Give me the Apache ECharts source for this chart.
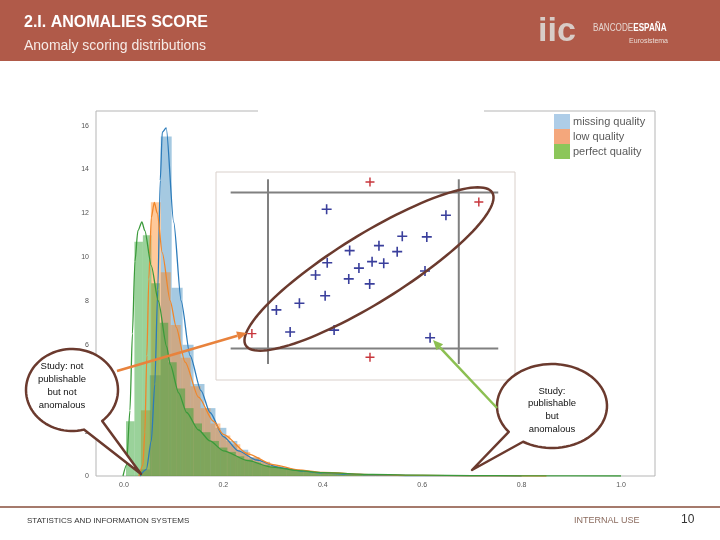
<!DOCTYPE html>
<html>
<head>
<meta charset="utf-8">
<script src="https://cdn.jsdelivr.net/npm/echarts@6.0.0/dist/echarts.min.js"></script>
<style>
  html, body { margin: 0; padding: 0; background: #fff; }
  #chart { width: 720px; height: 540px; }
</style>
</head>
<body>
<div id="chart"></div>
<script>
/* ---- data ---- */
const seriesNames = ['missing quality', 'low quality', 'perfect quality'];
const xTicks = [0, 0.2, 0.4, 0.6, 0.8, 1.0];
const yTicks = [0, 2, 4, 6, 8, 10, 12, 14, 16];

// histogram bin edges and densities
const missingEdges = [0.030, 0.052, 0.074, 0.096, 0.118, 0.140, 0.162, 0.184, 0.206, 0.228, 0.250, 0.272, 0.294, 0.316, 0.338, 0.360, 0.382, 0.404, 0.426, 0.448, 0.470, 0.492, 0.514, 0.536, 0.558, 0.580, 0.602, 0.624, 0.646, 0.668, 0.690];
const missingDensity = [0.3, 4.6, 15.5, 8.6, 6.0, 4.2, 3.1, 2.2, 1.6, 1.2, 0.85, 0.62, 0.45, 0.34, 0.26, 0.2, 0.16, 0.13, 0.1, 0.08, 0.07, 0.06, 0.05, 0.04, 0.03, 0.03, 0.02, 0.02, 0.01, 0.01];

const lowEdges = [0.034, 0.054, 0.074, 0.094, 0.114, 0.134, 0.154, 0.174, 0.194, 0.214, 0.234, 0.254, 0.274, 0.294, 0.314, 0.334, 0.354, 0.374, 0.394, 0.414, 0.434, 0.454, 0.474, 0.494, 0.514, 0.534, 0.554, 0.574, 0.594, 0.614, 0.634];
const lowDensity = [3.0, 12.5, 9.3, 6.9, 5.4, 4.1, 3.1, 2.4, 1.85, 1.45, 1.1, 0.85, 0.65, 0.5, 0.38, 0.3, 0.23, 0.18, 0.14, 0.11, 0.09, 0.07, 0.06, 0.05, 0.04, 0.03, 0.03, 0.02, 0.02, 0.01];

const perfectEdges = [0.004, 0.021, 0.038, 0.055, 0.072, 0.089, 0.106, 0.123, 0.140, 0.157, 0.174, 0.191, 0.208, 0.225, 0.242, 0.259, 0.276, 0.293, 0.310, 0.327, 0.344, 0.361, 0.378, 0.395, 0.412, 0.429, 0.446, 0.463, 0.480, 0.497, 0.514, 0.531, 0.548, 0.565, 0.582, 0.599, 0.616, 0.633, 0.650, 0.667, 0.684, 0.701, 0.718, 0.735, 0.752];
const perfectDensity = [2.5, 10.7, 11.0, 8.8, 7.0, 5.2, 4.0, 3.1, 2.4, 2.0, 1.6, 1.3, 1.1, 0.9, 0.75, 0.62, 0.5, 0.42, 0.35, 0.3, 0.25, 0.21, 0.18, 0.15, 0.13, 0.11, 0.09, 0.08, 0.07, 0.06, 0.05, 0.045, 0.04, 0.035, 0.03, 0.03, 0.025, 0.02, 0.02, 0.015, 0.015, 0.01, 0.01, 0.01];

// density curves [score, density]
const missingKde = [[0.032, 0], [0.045, 0.3], [0.055, 1.6], [0.062, 4.2], [0.068, 8.5], [0.073, 13.5], [0.077, 15.7], [0.085, 15.9], [0.1, 11.6], [0.115, 8.0], [0.133, 5.5], [0.155, 3.9], [0.173, 2.9], [0.2, 1.8], [0.23, 1.15], [0.267, 0.73], [0.314, 0.38], [0.36, 0.22], [0.4, 0.14], [0.45, 0.09], [0.5, 0.05], [0.6, 0.02], [0.7, 0.01], [0.8, 0]];
const lowKde = [[0.03, 0], [0.038, 0.5], [0.042, 2], [0.046, 5.5], [0.05, 9], [0.055, 11.8], [0.061, 12.5], [0.067, 12], [0.077, 10.2], [0.093, 8.0], [0.105, 6.8], [0.123, 5.2], [0.15, 3.6], [0.18, 2.5], [0.2, 1.9], [0.25, 1.0], [0.3, 0.52], [0.35, 0.28], [0.4, 0.16], [0.5, 0.06], [0.6, 0.025], [0.7, 0.01], [0.85, 0]];
const perfectKde = [[-0.002, 0], [0.005, 0.5], [0.012, 3], [0.017, 6.5], [0.022, 9.8], [0.028, 11.2], [0.036, 11.6], [0.042, 11.2], [0.055, 9.6], [0.069, 8.0], [0.086, 5.9], [0.093, 5.1], [0.11, 3.8], [0.126, 2.9], [0.15, 2.1], [0.173, 1.6], [0.2, 1.15], [0.25, 0.7], [0.294, 0.42], [0.35, 0.25], [0.4, 0.15], [0.5, 0.07], [0.6, 0.04], [0.7, 0.02], [0.8, 0.01], [1.0, 0]];

// inset sketch: two features on a 0-10 scale
const insetNormal = [[3.70, 8.21], [7.69, 7.92], [6.23, 6.91], [7.05, 6.88], [5.45, 6.46], [4.47, 6.22], [6.06, 6.17], [3.72, 5.64], [5.22, 5.69], [5.61, 5.61], [4.78, 5.38], [3.33, 5.05], [4.44, 4.86], [6.99, 5.24], [5.14, 4.62], [3.65, 4.05], [2.79, 3.69], [2.02, 3.37], [2.48, 2.31], [3.95, 2.40], [7.16, 2.03]];
const insetAnomalies = [[5.15, 9.52], [8.79, 8.56], [1.20, 2.23], [5.15, 1.09]];
// guide segments [x1, y1, x2, y2]
const insetGuides = [[0.49, 9.02, 9.44, 9.02], [0.49, 1.52, 9.44, 1.52], [1.74, 9.65, 1.74, 0.77], [8.12, 9.65, 8.12, 0.77]];

/* ---- helpers ---- */
const FONT = '"Liberation Sans", Arial, sans-serif';

function toBins(edges, dens) {
  return dens.map((d, i) => [edges[i], edges[i + 1], d]);
}

function histSeries(name, edges, dens, color) {
  return {
    type: 'custom',
    name,
    xAxisIndex: 0,
    yAxisIndex: 0,
    clip: true,
    silent: true,
    itemStyle: { color },
    encode: { x: [0, 1], y: 2 },
    data: toBins(edges, dens),
    renderItem(params, api) {
      const p0 = api.coord([api.value(0), api.value(2)]);
      const p1 = api.coord([api.value(1), 0]);
      return {
        type: 'rect',
        shape: { x: p0[0], y: p0[1], width: p1[0] - p0[0], height: p1[1] - p0[1] },
        style: { fill: api.visual('color') }
      };
    }
  };
}

function kdeSeries(name, data, color) {
  return {
    type: 'line',
    name,
    xAxisIndex: 0,
    yAxisIndex: 0,
    data,
    symbol: 'none',
    smooth: 0.25,
    smoothMonotone: 'x',
    silent: true,
    lineStyle: { color, width: 1.3 }
  };
}

function ellipsePts(cx, cy, rx, ry, rotDeg, fromDeg, toDeg, steps) {
  const r = rotDeg * Math.PI / 180, c = Math.cos(r), s = Math.sin(r);
  const pts = [];
  for (let i = 0; i <= steps; i++) {
    const t = (fromDeg + (toDeg - fromDeg) * i / steps) * Math.PI / 180;
    const ex = rx * Math.cos(t), ey = ry * Math.sin(t);
    pts.push([cx + ex * c - ey * s, cy + ex * s + ey * c]);
  }
  return pts;
}

function bubble(cx, cy, rx, ry, fromDeg, toDeg, tip) {
  const pts = ellipsePts(cx, cy, rx, ry, 0, fromDeg, toDeg, 80);
  pts.push(tip);
  return {
    type: 'polygon', z: 20,
    shape: { points: pts },
    style: { fill: '#fff', stroke: '#6b3a2e', lineWidth: 2.5, lineJoin: 'round' }
  };
}

function arrow(x1, y1, x2, y2, color) {
  const ang = Math.atan2(y2 - y1, x2 - x1);
  const len = 10, half = 4.5;
  const bx = x2 - len * Math.cos(ang), by = y2 - len * Math.sin(ang);
  const head = [
    [x2, y2],
    [bx + half * Math.sin(ang), by - half * Math.cos(ang)],
    [bx - half * Math.sin(ang), by + half * Math.cos(ang)]
  ];
  return [
    { type: 'line', z: 21, shape: { x1, y1, x2: bx, y2: by }, style: { stroke: color, lineWidth: 2.5 } },
    { type: 'polygon', z: 21, shape: { points: head }, style: { fill: color } }
  ];
}

function text(x, y, str, font, fill, extra) {
  return {
    type: 'text', x, y, z: 30,
    style: Object.assign({ text: str, font, fill, verticalAlign: 'middle' }, extra || {})
  };
}

/* ---- chart ---- */
const chart = echarts.init(document.getElementById('chart'), null, { renderer: 'canvas' });

const guideSeries = insetGuides.map((g, i) => ({
  type: 'line',
  name: 'guide' + i,
  xAxisIndex: 1,
  yAxisIndex: 1,
  data: [[g[0], g[1]], [g[2], g[3]]],
  symbol: 'none',
  silent: true,
  lineStyle: { color: '#808080', width: 2 },
  z: 5
}));

const crossPath = 'path://M4.2,0H5.8V4.2H10V5.8H5.8V10H4.2V5.8H0V4.2H4.2Z';

const option = {
  animation: false,
  backgroundColor: '#fff',
  textStyle: { fontFamily: FONT },
  grid: [
    { left: 96, top: 111, width: 559, height: 365, show: true, backgroundColor: '#fff', borderColor: '#b5b5b5', borderWidth: 1 },
    { left: 216, top: 172, width: 299, height: 208, show: true, backgroundColor: '#fff', borderColor: '#d9d0cb', borderWidth: 1, z: 4 }
  ],
  xAxis: [
    {
      type: 'value', gridIndex: 0, min: -0.0563, max: 1.0684,
      splitLine: { show: false }, axisLine: { show: false }, axisTick: { show: false },
      axisLabel: { customValues: xTicks, formatter: (v) => v.toFixed(1), fontSize: 7, color: '#555', margin: 6 }
    },
    { type: 'value', gridIndex: 1, min: 0, max: 10, show: false }
  ],
  yAxis: [
    {
      type: 'value', gridIndex: 0, min: 0, max: 16.67,
      splitLine: { show: false }, axisLine: { show: false }, axisTick: { show: false },
      axisLabel: { customValues: yTicks, fontSize: 7, color: '#555', margin: 7 }
    },
    { type: 'value', gridIndex: 1, min: 0, max: 10, show: false }
  ],
  legend: {
    data: [
      { name: seriesNames[0], itemStyle: { color: '#aecde8' } },
      { name: seriesNames[1], itemStyle: { color: '#f4a77c' } },
      { name: seriesNames[2], itemStyle: { color: '#8cc65a' } }
    ],
    orient: 'vertical', left: 554, top: 114, padding: 0,
    itemWidth: 16, itemHeight: 15, itemGap: 0, icon: 'rect',
    selectedMode: false,
    textStyle: { fontSize: 11, color: '#5a5a5a', fontFamily: FONT, lineHeight: 15, padding: [0, 0, 0, -2] }
  },
  series: [
    histSeries(seriesNames[0], missingEdges, missingDensity, 'rgba(31,119,180,0.4)'),
    kdeSeries('missing kde', missingKde, '#2b7bba'),
    histSeries(seriesNames[1], lowEdges, lowDensity, 'rgba(255,127,14,0.42)'),
    kdeSeries('low kde', lowKde, '#f0862a'),
    histSeries(seriesNames[2], perfectEdges, perfectDensity, 'rgba(44,160,44,0.48)'),
    kdeSeries('perfect kde', perfectKde, '#3a9a3a'),
    ...guideSeries,
    {
      type: 'scatter', name: 'normal', xAxisIndex: 1, yAxisIndex: 1,
      data: insetNormal, symbol: crossPath, symbolSize: 10, silent: true, z: 6,
      itemStyle: { color: '#3a3f9c', opacity: 1 }
    },
    {
      type: 'scatter', name: 'anomaly', xAxisIndex: 1, yAxisIndex: 1,
      data: insetAnomalies, symbol: crossPath, symbolSize: 9, silent: true, z: 6,
      itemStyle: { color: '#c8363c', opacity: 1 }
    }
  ],
  graphic: [
    // header band
    { type: 'rect', z: 1, shape: { x: 0, y: 0, width: 720, height: 61 }, style: { fill: '#b05a49' } },
    text(24, 23, '2.I. ANOMALIES SCORE', 'bold 16px ' + FONT, '#ffffff'),
    text(24, 46, 'Anomaly scoring distributions', '14px ' + FONT, '#f6ebe7'),
    text(538, 32, 'iic', 'bold 34px ' + FONT, '#d8ccc7'),
    {
      type: 'text', x: 593, y: 28, z: 30, scaleX: 0.74,
      style: {
        text: '{a|BANCODE}{b|ESPAÑA}',
        verticalAlign: 'middle',
        rich: {
          a: { font: '11px ' + FONT, fill: '#e6d6d0' },
          b: { font: 'bold 11px ' + FONT, fill: '#ffffff' }
        }
      }
    },
    text(668, 41, 'Eurosistema', '7px ' + FONT, '#eadcd6', { align: 'right' }),
    // white patch over the top frame
    { type: 'rect', z: 10, shape: { x: 258, y: 98, width: 226, height: 15 }, style: { fill: '#fff' } },
    // scoring ellipse over the inset
    {
      type: 'polygon', z: 20,
      shape: { points: ellipsePts(369, 269, 145, 34, -31.8, 0, 360, 120) },
      style: { fill: 'none', stroke: '#6b3a2e', lineWidth: 2.5 }
    },
    // speech bubbles
    bubble(72, 390, 46, 41, 75, 409, [141, 474]),
    text(62, 386, 'Study: not\npublishable\nbut not\nanomalous', '9.5px ' + FONT, '#111', { align: 'center', lineHeight: 13 }),
    bubble(552, 406, 55, 42, 141.8, 481.7, [472, 470]),
    text(552, 410, 'Study:\npublishable\nbut\nanomalous', '9.5px ' + FONT, '#111', { align: 'center', lineHeight: 12.7 }),
    // arrows
    ...arrow(117, 371, 247, 333, '#e8823c'),
    ...arrow(497, 408, 433, 340, '#8cbf52'),
    // footer
    { type: 'line', z: 1, shape: { x1: 0, y1: 507, x2: 720, y2: 507 }, style: { stroke: '#a57a6c', lineWidth: 2 } },
    text(27, 521, 'STATISTICS AND INFORMATION SYSTEMS', '8px ' + FONT, '#333'),
    text(574, 521, 'INTERNAL USE', '9px ' + FONT, '#8b6b5e'),
    text(681, 520, '10', '12px ' + FONT, '#333')
  ]
};

chart.setOption(option);
</script>
</body>
</html>
